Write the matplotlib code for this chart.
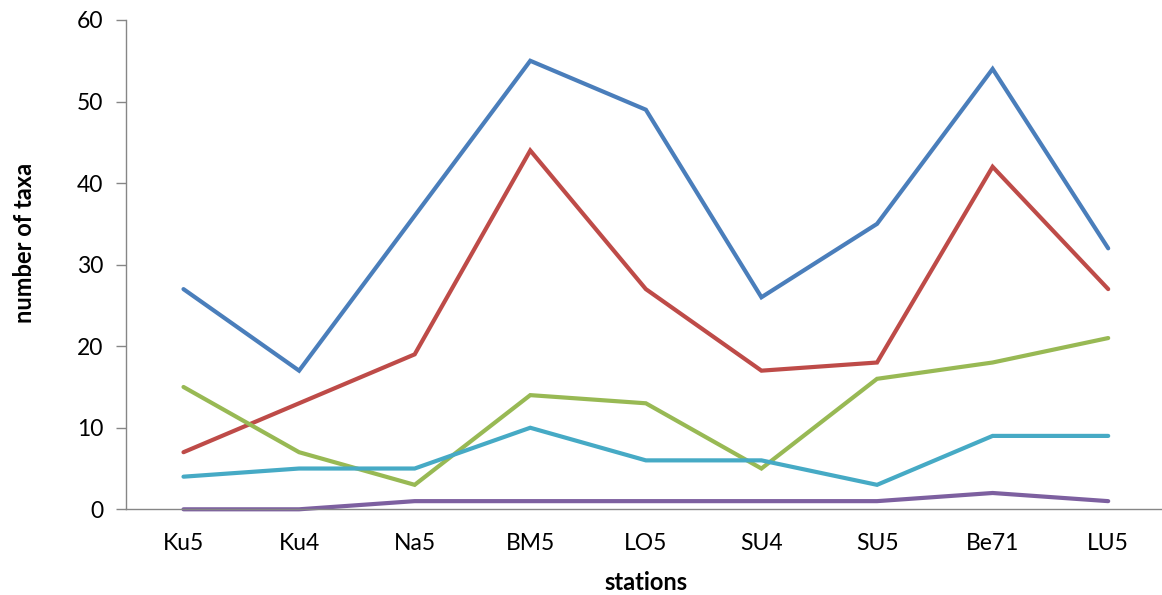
import matplotlib
matplotlib.use("Agg")
import matplotlib.pyplot as plt

stations = ["Ku5", "Ku4", "Na5", "BM5", "LO5", "SU4", "SU5", "Be71", "LU5"]
series_blue = [27, 17, 36, 55, 49, 26, 35, 54, 32]
series_red = [7, 13, 19, 44, 27, 17, 18, 42, 27]
series_green = [15, 7, 3, 14, 13, 5, 16, 18, 21]
series_cyan = [4, 5, 5, 10, 6, 6, 3, 9, 9]
series_purple = [0, 0, 1, 1, 1, 1, 1, 2, 1]
y_ticks = [0, 10, 20, 30, 40, 50, 60]

plt.rcParams['font.family'] = ['Lato', 'DejaVu Sans']

W, H = 1162, 595
fig = plt.figure(figsize=(W / 100, H / 100), dpi=100)
left, right, top, bottom = 125.7, 1166, 20, 509.3
ax = fig.add_axes([left / W, 1 - bottom / H, (right - left) / W, (bottom - top) / H])

x = list(range(len(stations)))
colors = ["#4A7EBB", "#BE4B48", "#98B954", "#46AAC5", "#7D60A0"]
for s, c in zip([series_blue, series_red, series_green, series_cyan, series_purple], colors):
    ax.plot(x, s, color=c, lw=3.0, solid_joinstyle='miter', solid_capstyle='round', clip_on=False)

ax.set_xlim(-0.5, len(stations) - 0.5)
ax.set_ylim(0, 60)
ax.set_yticks(y_ticks)
ax.set_xticks(x)
ax.set_xticklabels(stations)

for sp in ['top', 'right']:
    ax.spines[sp].set_visible(False)
for sp in ['left', 'bottom']:
    ax.spines[sp].set_color('#868686')
    ax.spines[sp].set_linewidth(1.0)

ax.tick_params(axis='y', direction='out', length=7, width=1.0, color='#868686',
               labelsize=16.5, pad=9, labelcolor='#000000')
ax.tick_params(axis='x', length=0, labelsize=16.5, pad=17, labelcolor='#000000')

fig.text(646 / W, 1 - 583 / H, "stations", ha='center', va='center',
         fontsize=17, fontweight='bold')
fig.text(24 / W, 1 - 243 / H, "number of taxa", ha='center', va='center',
         rotation=90, fontsize=17, fontweight='bold')

fig.savefig("out.png", dpi=100)
